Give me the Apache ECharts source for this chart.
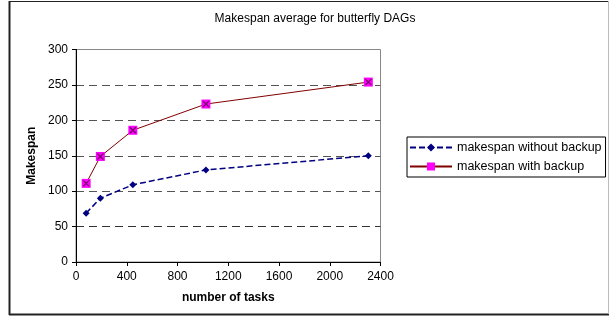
<!DOCTYPE html>
<html>
<head>
<meta charset="utf-8">
<script src="https://cdn.jsdelivr.net/npm/echarts@6/dist/echarts.min.js"></script>
<style>
  html, body { margin: 0; padding: 0; background: #fff; }
  #chart { width: 610px; height: 317px; }
</style>
</head>
<body>
<div id="chart"></div>
<script>
// number of tasks (butterfly DAG sizes)
var tasks = [80, 192, 448, 1024, 2304];
// makespan values
var withoutBackup = [69, 90, 109, 130, 150];
var withBackup = [111, 149, 186, 223, 254];
var yTicks = [0, 50, 100, 150, 200, 250, 300];
var xTicks = [0, 400, 800, 1200, 1600, 2000, 2400];

function pairs(xs, ys) {
    return xs.map(function (x, i) { return [x, ys[i]]; });
}

var font = 'Liberation Sans, Arial, sans-serif';
var chart = echarts.init(document.getElementById('chart'));

chart.setOption({
    animation: false,
    backgroundColor: '#fff',
    textStyle: { fontFamily: font },
    title: {
        text: 'Makespan average for butterfly DAGs',
        left: 310,
        top: 8,
        textAlign: 'center',
        textStyle: { fontSize: 12, fontWeight: 'normal', color: '#000', fontFamily: font }
    },
    grid: {
        left: 76, top: 49.5, right: 229.5, bottom: 55,
        show: true, borderColor: '#888', borderWidth: 1
    },
    legend: {
        orient: 'vertical',
        left: 407,
        top: 137,
        padding: [4, 4, 4, 2],
        itemWidth: 42,
        itemHeight: 10,
        itemGap: 6,
        borderColor: '#000',
        borderWidth: 1,
        data: ['makespan without backup', 'makespan with backup'],
        textStyle: { fontSize: 12.5, color: '#000', fontFamily: font }
    },
    xAxis: {
        type: 'value',
        min: xTicks[0],
        max: xTicks[xTicks.length - 1],
        interval: 400,
        name: 'number of tasks',
        nameLocation: 'middle',
        nameGap: 30,
        nameTextStyle: { fontSize: 12, fontWeight: 'bold', color: '#000' },
        axisLine: { lineStyle: { color: '#000', width: 1 } },
        axisTick: { show: true, inside: false, length: 4, lineStyle: { color: '#000' } },
        axisLabel: { fontSize: 12, color: '#000', margin: 9, formatter: function (v) { return String(v); } },
        splitLine: { show: false }
    },
    yAxis: {
        type: 'value',
        min: yTicks[0],
        max: yTicks[yTicks.length - 1],
        interval: 50,
        name: 'Makespan',
        nameLocation: 'middle',
        nameGap: 38,
        nameRotate: 90,
        nameTextStyle: { fontSize: 12, fontWeight: 'bold', color: '#000' },
        axisLine: { show: true, lineStyle: { color: '#000', width: 1 } },
        axisTick: { show: true, inside: false, length: 4, lineStyle: { color: '#000' } },
        axisLabel: { fontSize: 12, color: '#000', margin: 8 },
        splitLine: {
            show: true,
            lineStyle: {
                color: ['transparent', '#333', '#555', '#555', '#555', '#555', 'transparent'],
                type: [8, 5],
                width: 1
            }
        }
    },
    series: [
        {
            name: 'makespan without backup',
            type: 'line',
            data: pairs(tasks, withoutBackup),
            symbol: 'diamond',
            symbolSize: 7,
            itemStyle: { color: '#000080' },
            lineStyle: { color: '#000080', width: 1.5, type: [6, 3] }
        },
        {
            name: 'makespan with backup',
            type: 'line',
            data: pairs(tasks, withBackup),
            symbol: 'rect',
            symbolSize: 9,
            itemStyle: { color: '#ff00ff' },
            lineStyle: { color: '#800000', width: 1 },
            z: 3
        },
        {
            // the little cross drawn inside each magenta square
            name: 'cross',
            type: 'scatter',
            data: pairs(tasks, withBackup),
            symbol: 'path://M0,0L10,10M10,0L0,10',
            symbolSize: 6,
            itemStyle: { color: '#500040', borderColor: '#500040', borderWidth: 1.2 },
            z: 5,
            silent: true
        }
    ],
    graphic: [
        { type: 'rect', shape: { x: 9.5, y: 1.5, width: 599, height: 313 }, style: { fill: 'none', stroke: '#222', lineWidth: 1 } },
        { type: 'line', shape: { x1: 9.5, y1: 1, x2: 9.5, y2: 315 }, style: { stroke: '#222', lineWidth: 2 } },
        { type: 'line', shape: { x1: 9, y1: 314.5, x2: 609, y2: 314.5 }, style: { stroke: '#222', lineWidth: 2 } },
        { type: 'line', shape: { x1: 608.5, y1: 1, x2: 608.5, y2: 314 }, style: { stroke: '#bbb', lineWidth: 1 } }
    ]
});
</script>
</body>
</html>
